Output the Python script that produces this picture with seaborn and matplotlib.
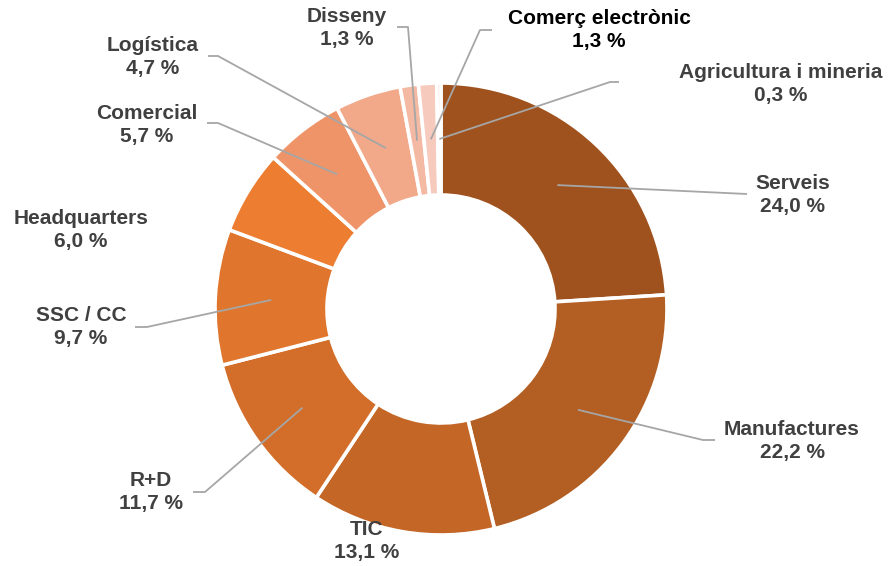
import numpy as np
import seaborn as sns
import matplotlib.pyplot as plt

# data
sectors = ['Serveis', 'Manufactures', 'TIC', 'R+D', 'SSC / CC', 'Headquarters',
           'Comercial', 'Logística', 'Disseny', 'Comerç electrònic', 'Agricultura i mineria']
shares = [24.0, 22.2, 13.1, 11.7, 9.7, 6.0, 5.7, 4.7, 1.3, 1.3, 0.3]
colors = ['#A0521E', '#B35E22', '#C46626', '#D26E2A', '#E0762D', '#EC7D31',
          '#EE9468', '#F1A98A', '#F3B9A2', '#F6CBBD', '#F8D9CE']

# layout (pixels from top-left): label centre, leader elbow, leader end
label_xy = [(793, 195), (792, 441), (367, 541), (151, 492), (81, 327), (81, 230),
            (147, 125), (153, 57), (347, 28), (599, 30), (781, 84)]
elbow_xy = [(747, 194), (703, 440), None, (205, 492), (147, 327), None,
            (218, 123), (218, 56), (408, 27), (480, 30), (610, 82)]
end_xy = [(747, 194), (715, 440), None, (193, 492), (135, 327), None,
          (207, 123), (208, 56), (397, 27), (492, 30), (619, 82)]

W, H = 889, 566

sns.set_theme(style='white')
plt.rcParams['font.family'] = ['Liberation Sans', 'DejaVu Sans']

fig = plt.figure(figsize=(W / 100, H / 100), dpi=100)
ax = fig.add_axes([0, 0, 1, 1])

r_out, r_w = 226, 112
wedges, _ = ax.pie(shares, colors=colors, startangle=90, counterclock=False,
                   center=(441, H - 309), radius=r_out,
                   wedgeprops=dict(width=r_w, edgecolor='white', linewidth=2.6))

ax.set_xlim(0, W)
ax.set_ylim(0, H)
ax.set_aspect('auto')
ax.axis('off')

for i, w in enumerate(wedges):
    name = sectors[i]
    txt = f"{name}\n{shares[i]:.1f} %".replace('.', ',')
    col = 'black' if name == 'Comerç electrònic' else '#404040'
    lx, ly = label_xy[i]
    ax.text(lx, H - ly, txt, ha='center', va='center', ma='center',
            fontsize=15, fontweight='bold', color=col, linespacing=1.32)
    if elbow_xy[i] is None:
        continue
    mid = np.deg2rad((w.theta1 + w.theta2) / 2)
    rr = r_out - r_w / 2
    ax0 = w.center[0] + rr * np.cos(mid)
    ay0 = w.center[1] + rr * np.sin(mid)
    ex, ey = elbow_xy[i]
    fx, fy = end_xy[i]
    ax.plot([ax0, ex, fx], [ay0, H - ey, H - fy], color='#A6A6A6', lw=1.3,
            solid_capstyle='butt', zorder=3)

fig.savefig('out.png', dpi=100)
